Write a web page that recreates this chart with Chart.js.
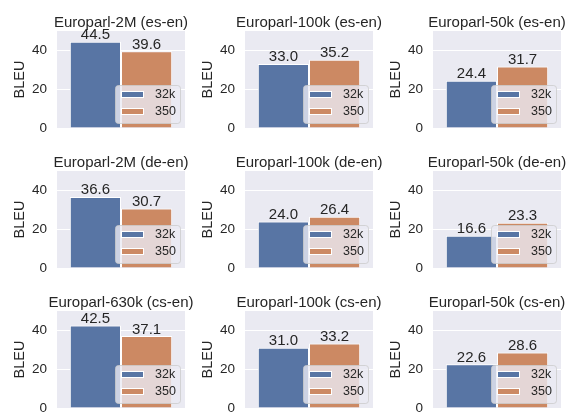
<!DOCTYPE html>
<html>
<head>
<meta charset="utf-8">
<script src="https://cdn.jsdelivr.net/npm/chart.js@4/dist/chart.umd.min.js"></script>
<style>
  html, body { margin: 0; padding: 0; background: #ffffff; width: 575px; height: 414px; overflow: hidden; }
  canvas.panel { position: absolute; }
</style>
</head>
<body>
<script>
// BLEU scores by training corpus and vocabulary size
const panelTitles = [
  'Europarl-2M (es-en)', 'Europarl-100k (es-en)', 'Europarl-50k (es-en)',
  'Europarl-2M (de-en)', 'Europarl-100k (de-en)', 'Europarl-50k (de-en)',
  'Europarl-630k (cs-en)', 'Europarl-100k (cs-en)', 'Europarl-50k (cs-en)'
];
const seriesLabels = ['32k', '350'];
const bleu32k = [44.5, 33.0, 24.4, 36.6, 24.0, 16.6, 42.5, 31.0, 22.6];
const bleu350 = [39.6, 35.2, 31.7, 30.7, 26.4, 23.3, 37.1, 33.2, 28.6];
const yTicks = [0, 20, 40];
const yLabel = 'BLEU';

const seriesColors = ['#5875A4', '#CC8963'];
const FONT = '"Liberation Sans", Arial, Helvetica, sans-serif';
const TEXT = '#262626';

// grid geometry (plot areas)
const colLeft = [57, 245, 433];
const rowTop = [31, 171, 311];
const PLOT_W = 128, PLOT_H = 97;
const AXIS_W = 57, PAD_TOP = 31, PAD_R = 14, PAD_B = 6;

const panelDecor = {
  id: 'panelDecor',
  beforeDraw(chart) {
    const { ctx, chartArea: a } = chart;
    ctx.save();
    ctx.fillStyle = '#EAEAF2';
    ctx.fillRect(a.left, a.top, a.right - a.left, a.bottom - a.top);
    ctx.restore();
  },
  afterDatasetsDraw(chart) {
    const { ctx, chartArea: a } = chart;
    ctx.save();
    // value labels above each bar
    ctx.fillStyle = TEXT;
    ctx.font = '15px ' + FONT;
    ctx.textAlign = 'center';
    ctx.textBaseline = 'alphabetic';
    chart.data.datasets.forEach((ds, i) => {
      chart.getDatasetMeta(i).data.forEach((bar, j) => {
        ctx.fillText(ds.data[j].toFixed(1), bar.x, bar.y - 2.5);
      });
    });
    // legend box in the lower right of the plot
    const bx = a.left + 58, by = a.top + 54, bw = 65, bh = 38;
    ctx.beginPath();
    ctx.roundRect(bx + 0.5, by + 0.5, bw, bh, 3);
    ctx.fillStyle = 'rgba(234,234,242,0.8)';
    ctx.fill();
    ctx.strokeStyle = 'rgba(204,204,204,0.8)';
    ctx.lineWidth = 1;
    ctx.stroke();
    ctx.font = '12.5px ' + FONT;
    ctx.textAlign = 'left';
    ctx.textBaseline = 'middle';
    chart.data.datasets.forEach((ds, i) => {
      const py = by + 6 + i * 17;
      ctx.fillStyle = ds.backgroundColor;
      ctx.fillRect(bx + 6, py, 23, 7);
      ctx.strokeStyle = '#ffffff';
      ctx.strokeRect(bx + 6.5, py + 0.5, 22, 6);
      ctx.fillStyle = TEXT;
      ctx.fillText(ds.label, bx + 40, py + 4);
    });
    ctx.restore();
  },
  afterDraw(chart) {
    const { ctx, chartArea: a } = chart;
    ctx.save();
    ctx.fillStyle = TEXT;
    ctx.font = '15px ' + FONT;
    ctx.textAlign = 'center';
    ctx.textBaseline = 'alphabetic';
    ctx.fillText(chart.options.plugins.panelDecor.title, (a.left + a.right) / 2, a.top - 4.5);
    ctx.translate(a.left - 37.5, (a.top + a.bottom) / 2);
    ctx.rotate(-Math.PI / 2);
    ctx.font = '14.5px ' + FONT;
    ctx.textBaseline = 'middle';
    ctx.fillText(yLabel, 0, 0);
    ctx.restore();
  }
};

panelTitles.forEach((title, k) => {
  const r = Math.floor(k / 3), c = k % 3;
  const canvas = document.createElement('canvas');
  canvas.className = 'panel';
  canvas.width = AXIS_W + PLOT_W + PAD_R;
  canvas.height = PAD_TOP + PLOT_H + PAD_B;
  canvas.style.left = (colLeft[c] - AXIS_W) + 'px';
  canvas.style.top = (rowTop[r] - PAD_TOP) + 'px';
  document.body.appendChild(canvas);

  new Chart(canvas, {
    type: 'bar',
    data: {
      labels: [''],
      datasets: [
        { label: seriesLabels[0], data: [bleu32k[k]], backgroundColor: seriesColors[0] },
        { label: seriesLabels[1], data: [bleu350[k]], backgroundColor: seriesColors[1] }
      ]
    },
    options: {
      responsive: false,
      animation: false,
      devicePixelRatio: 1,
      layout: { padding: { left: 0, top: PAD_TOP, right: PAD_R, bottom: PAD_B } },
      datasets: {
        bar: { categoryPercentage: 0.8, barPercentage: 1.0, borderColor: '#ffffff', borderWidth: 1 }
      },
      scales: {
        x: { display: false },
        y: {
          min: 0, max: 50,
          afterBuildTicks(s) { s.ticks = yTicks.map(v => ({ value: v })); },
          afterFit(s) {
            s.width = AXIS_W;
            s.paddingTop = 0;
            s.paddingBottom = 0;
          },
          grid: { color: '#ffffff', lineWidth: 1, drawTicks: false },
          border: { display: false },
          ticks: { padding: 10, color: TEXT, font: { family: FONT, size: 13.5 } }
        }
      },
      plugins: {
        legend: { display: false },
        title: { display: false },
        tooltip: { enabled: false },
        panelDecor: { title: title }
      }
    },
    plugins: [panelDecor]
  });
});
</script>
</body>
</html>
